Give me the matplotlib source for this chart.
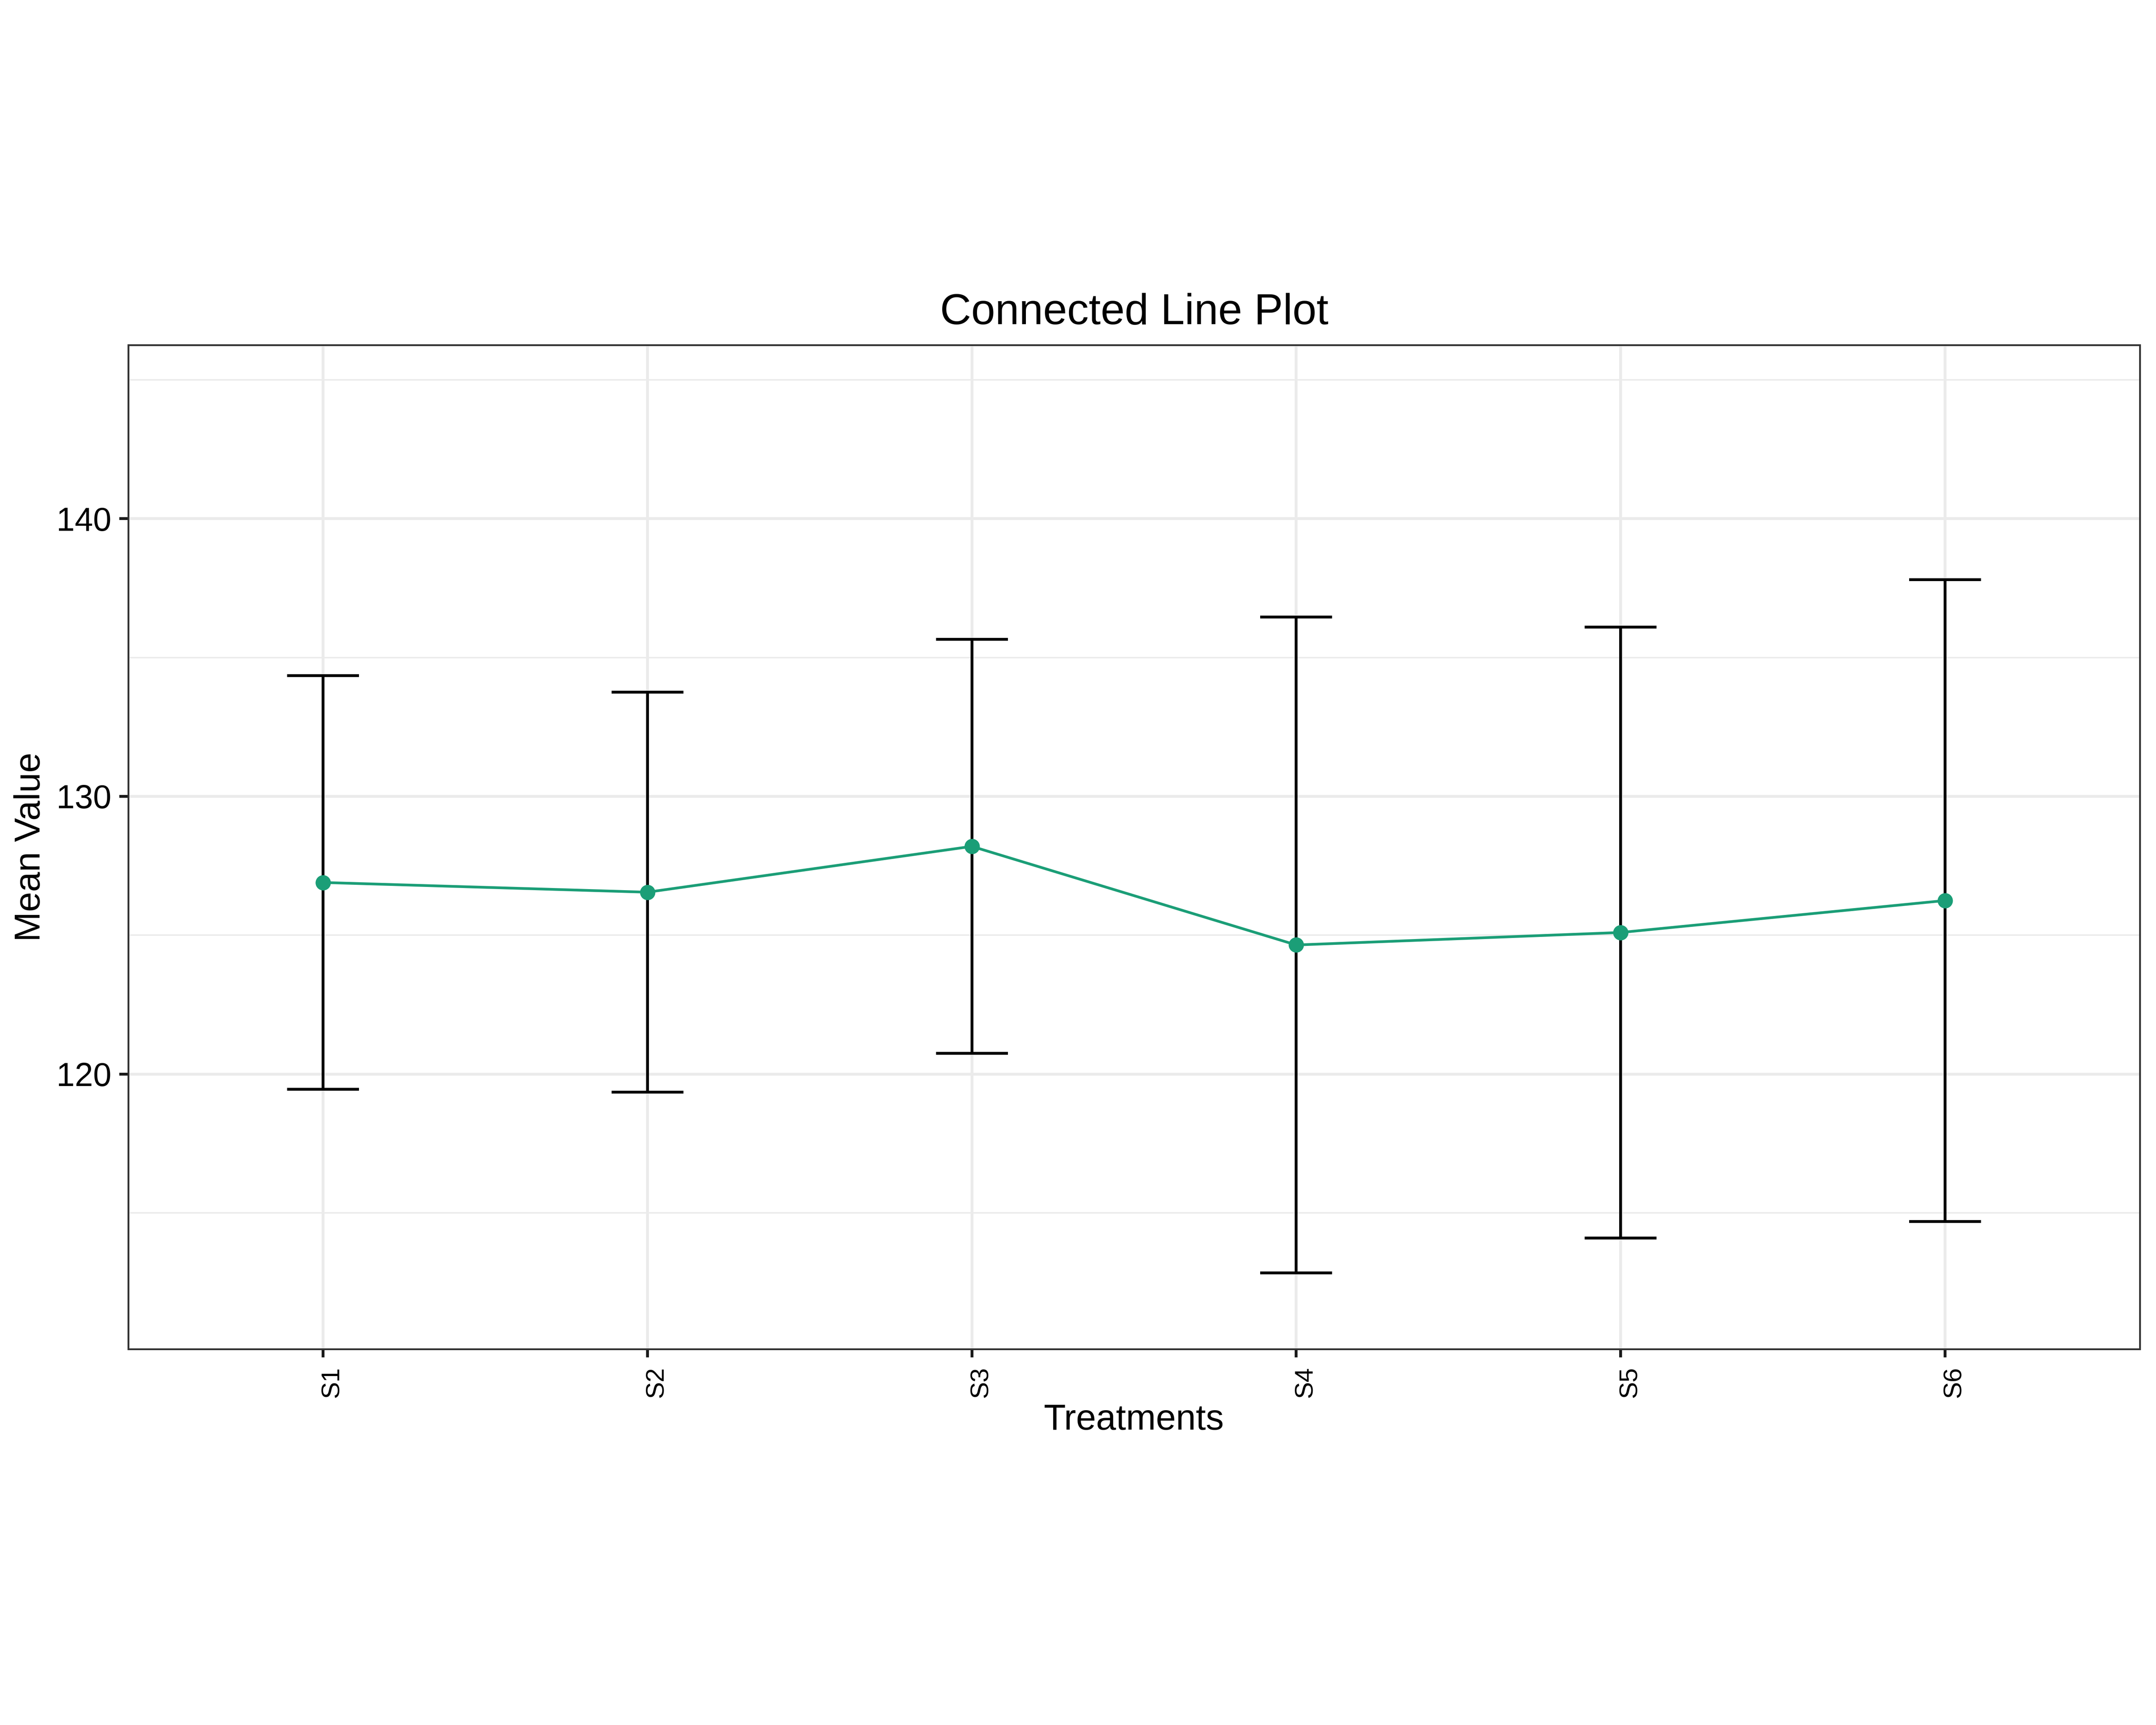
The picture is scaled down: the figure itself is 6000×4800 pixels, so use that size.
import numpy as np
import matplotlib
matplotlib.use("Agg")
import matplotlib.pyplot as plt
import matplotlib.transforms as mtransforms

# data
treatments = ["S1", "S2", "S3", "S4", "S5", "S6"]
mean_values = [126.9, 126.55, 128.2, 124.65, 125.1, 126.25]
err_values = [7.45, 7.2, 7.45, 11.8, 11.0, 11.55]

y_limits = (110.1, 146.25)
major_ticks = [120, 130, 140]
minor_ticks = [115, 125, 135, 145]

plt.rcParams['font.family'] = ['Liberation Sans', 'DejaVu Sans']

fig = plt.figure(figsize=(20, 16), dpi=300)
ax = fig.add_axes([0.0595, 0.2179, 0.9330, 0.5821])

x = np.arange(1, len(treatments) + 1)

# grid (ggplot theme_bw look)
ax.set_axisbelow(True)
ax.set_yticks(major_ticks)
ax.set_yticks(minor_ticks, minor=True)
ax.set_xticks(x)
ax.grid(True, which='major', color='#EBEBEB', linewidth=1.9)
ax.grid(True, which='minor', axis='y', color='#EBEBEB', linewidth=1.0)

# error bars
ax.errorbar(x, mean_values, yerr=err_values, fmt='none', ecolor='black',
            elinewidth=1.9, capsize=24, capthick=1.9, zorder=2)

# connected line with points
ax.plot(x, mean_values, color='#1B9E77', linewidth=1.8, zorder=3)
ax.plot(x, mean_values, 'o', color='#1B9E77', markersize=9.2, zorder=4)

ax.set_xlim(0.4, len(treatments) + 0.6)
ax.set_ylim(*y_limits)

ax.set_xticklabels(treatments, rotation=90, fontsize=17, va='top', ha='center')
ax.tick_params(axis='x', which='major', length=5.5, width=1.9, pad=6, color='#1a1a1a')
ax.tick_params(axis='y', which='major', length=6, width=1.9, pad=5.3,
               labelsize=22, color='#1a1a1a')
ax.tick_params(axis='y', which='minor', length=0)

shift = mtransforms.ScaledTranslation(0.085, 0, fig.dpi_scale_trans)
for lab in ax.get_xticklabels():
    lab.set_transform(lab.get_transform() + shift)

for sp in ax.spines.values():
    sp.set_color('#333333')
    sp.set_linewidth(1.2)

ax.set_title('Connected Line Plot', fontsize=28.8, pad=14)
ax.set_xlabel('Treatments', fontsize=24, labelpad=4)
ax.set_ylabel('Mean Value', fontsize=24, labelpad=6)

fig.savefig('out.png', dpi=300, facecolor='white')
